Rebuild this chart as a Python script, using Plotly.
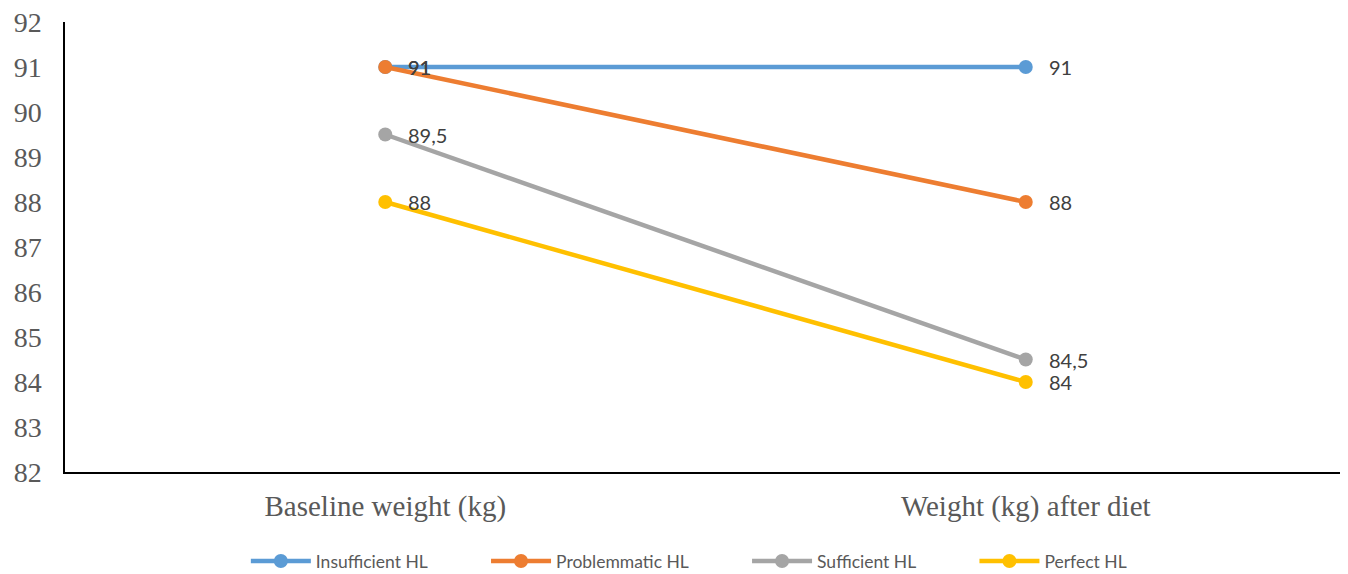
import plotly.graph_objects as go

categories = ["Baseline weight (kg)", "Weight (kg) after diet"]
series_names = ["Insufficient HL", "Problemmatic HL", "Sufficient HL", "Perfect HL"]
insufficient = [91, 91]
problematic = [91, 88]
sufficient = [89.5, 84.5]
perfect = [88, 84]
colors = ["#5B9BD5", "#ED7D31", "#A5A5A5", "#FFC000"]
y_ticks = list(range(82, 93))

all_values = [insufficient, problematic, sufficient, perfect]

def fmt(v):
    s = ("%g" % v)
    return s.replace(".", ",")

pad = "\u00a0" * 12
fig = go.Figure()
for i, (name, vals, col) in enumerate(zip(series_names, all_values, colors)):
    label = name + (pad if i < len(series_names) - 1 else "")
    fig.add_trace(go.Scatter(
        x=categories, y=vals, name=label, mode="lines+markers",
        line=dict(color=col, width=4.5),
        marker=dict(color=col, size=14),
    ))

annotations = []
for vals in all_values:
    for c, v in zip(categories, vals):
        annotations.append(dict(
            x=c, y=v, xref="x", yref="y", text=fmt(v), showarrow=False,
            xanchor="left", yanchor="middle", xshift=21,
            font=dict(family="Lato, Open Sans, sans-serif", size=20, color="#404040"),
        ))

fig.update_layout(
    width=1340, height=574,
    margin=dict(l=57, r=2, t=14, b=110),
    paper_bgcolor="white", plot_bgcolor="white",
    showlegend=True,
    legend=dict(
        orientation="h", x=0.487, xanchor="center", y=-0.158, yanchor="top",
        font=dict(family="Lato, Open Sans, sans-serif", size=17.5, color="#595959"),
        itemwidth=60, traceorder="normal",
    ),
    annotations=annotations,
    xaxis=dict(
        showgrid=False, showline=True, linecolor="#000000", linewidth=1.5,
        ticks="", range=[-0.5, 1.5], automargin=False,
        tickfont=dict(family="Liberation Serif, Times New Roman, serif", size=29, color="#595959"),
        ticklabelstandoff=7,
    ),
    yaxis=dict(
        range=[82, 92], tickvals=y_ticks, showgrid=False, zeroline=False,
        showline=True, linecolor="#000000", linewidth=1.5, ticks="",
        automargin=False, ticklabeloverflow="allow",
        tickfont=dict(family="Liberation Serif, Times New Roman, serif", size=28, color="#595959"),
        ticklabelstandoff=16,
    ),
)

fig.write_html("out.html")
